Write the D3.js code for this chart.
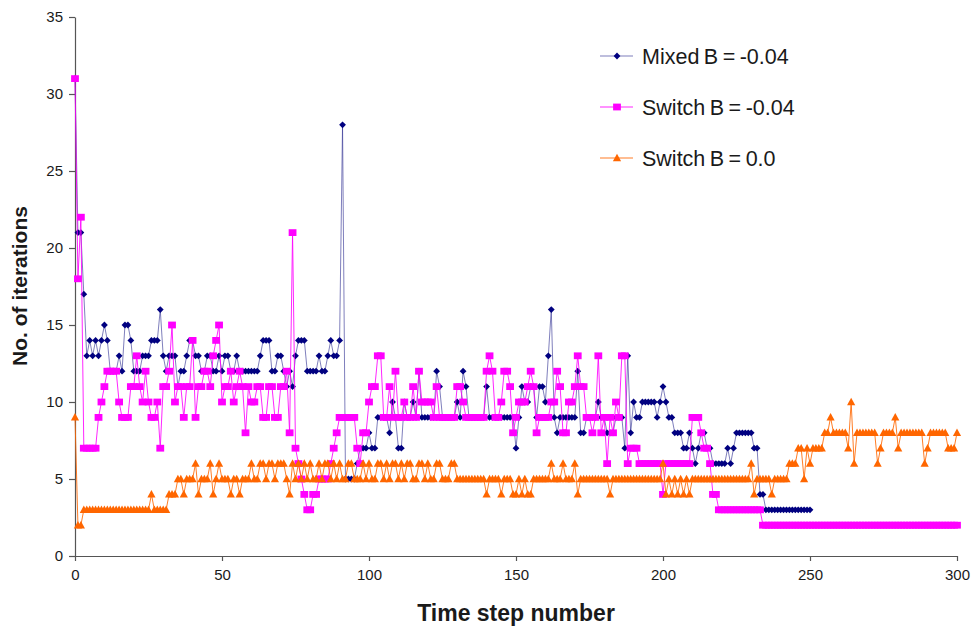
<!DOCTYPE html>
<html>
<head>
<meta charset="utf-8">
<script src="https://cdn.jsdelivr.net/npm/d3@7/dist/d3.min.js"></script>
<style>
  html, body { margin: 0; padding: 0; background: #fff; }
  svg { display: block; font-family: "Liberation Sans", Arial, sans-serif; }
</style>
</head>
<body>
<svg id="chart" width="973" height="628"></svg>
<script>
// Iterations per time step for the three solver variants
const seriesNames = ["Mixed B = -0.04", "Switch B = -0.04", "Switch B = 0.0"];

// Mixed, B = -0.04 (time steps 0..250)
const mixedIters = [
  31, 21, 21, 17, 13, 14, 13, 14, 13, 14,
  15, 14, 12, 12, 12, 13, 12, 15, 15, 14,
  12, 12, 12, 13, 13, 13, 14, 14, 14, 16,
  13, 12, 13, 13, 13, 11, 12, 12, 13, 14,
  14, 13, 13, 12, 12, 13, 13, 12, 12, 13,
  12, 13, 13, 12, 12, 13, 12, 12, 12, 12,
  12, 12, 12, 13, 14, 14, 14, 12, 12, 13,
  13, 12, 11, 12, 11, 13, 14, 14, 14, 12,
  12, 12, 12, 13, 12, 12, 13, 14, 13, 13,
  14, 28, 5, 5, 5, 5, 6, 7, 7, 7,
  8, 7, 7, 9, 9, 9, 9, 8, 10, 9,
  7, 7, 10, 9, 9, 10, 9, 12, 9, 9,
  9, 9, 9, 12, 11, 9, 9, 9, 9, 9,
  10, 9, 12, 11, 9, 9, 9, 9, 9, 9,
  11, 9, 9, 9, 9, 9, 9, 9, 9, 9,
  7, 9, 11, 10, 10, 11, 11, 9, 11, 11,
  10, 13, 16, 9, 8, 9, 9, 9, 9, 9,
  9, 12, 8, 8, 9, 9, 9, 9, 10, 9,
  9, 8, 8, 8, 9, 9, 9, 7, 13, 8,
  10, 9, 9, 10, 10, 10, 10, 10, 9, 10,
  11, 10, 9, 9, 8, 8, 8, 7, 7, 8,
  7, 6, 7, 8, 8, 7, 7, 6, 6, 6,
  6, 6, 7, 6, 7, 8, 8, 8, 8, 8,
  8, 7, 7, 4, 4, 3, 3, 3, 3, 3,
  3, 3, 3, 3, 3, 3, 3, 3, 3, 3, 3
];

// Switch, B = -0.04 (time steps 0..300)
const switchIters = [
  31, 18, 22, 7, 7, 7, 7, 7, 9, 10,
  11, 12, 12, 12, 12, 10, 9, 9, 9, 11,
  11, 13, 11, 10, 12, 10, 9, 9, 10, 7,
  11, 11, 12, 15, 10, 11, 11, 9, 11, 11,
  14, 9, 11, 11, 12, 12, 11, 13, 14, 15,
  10, 11, 11, 12, 10, 11, 12, 11, 8, 11,
  10, 10, 11, 11, 9, 9, 11, 11, 9, 9,
  11, 11, 12, 8, 21, 7, 6, 5, 4, 3,
  3, 4, 4, 5, 5, 5, 5, 6, 7, 8,
  9, 9, 9, 9, 9, 9, 7, 6, 8, 8,
  10, 11, 11, 13, 13, 9, 9, 11, 9, 12,
  9, 9, 10, 9, 9, 11, 9, 12, 10, 10,
  10, 10, 9, 11, 9, 9, 9, 9, 9, 9,
  11, 11, 10, 9, 9, 9, 9, 9, 9, 9,
  12, 13, 12, 9, 9, 10, 12, 12, 11, 8,
  9, 10, 10, 10, 11, 12, 11, 8, 9, 9,
  9, 9, 10, 10, 12, 11, 8, 8, 10, 10,
  11, 13, 11, 11, 9, 9, 8, 9, 13, 8,
  9, 6, 9, 8, 10, 9, 13, 13, 6, 7,
  7, 7, 6, 6, 6, 6, 6, 6, 6, 6,
  4, 6, 6, 6, 6, 6, 6, 6, 6, 6,
  9, 9, 9, 8, 7, 7, 6, 4, 4, 3,
  3, 3, 3, 3, 3, 3, 3, 3, 3, 3,
  3, 3, 3, 3, 2, 2, 2, 2, 2, 2,
  2, 2, 2, 2, 2, 2, 2, 2, 2, 2,
  2, 2, 2, 2, 2, 2, 2, 2, 2, 2,
  2, 2, 2, 2, 2, 2, 2, 2, 2, 2,
  2, 2, 2, 2, 2, 2, 2, 2, 2, 2,
  2, 2, 2, 2, 2, 2, 2, 2, 2, 2,
  2, 2, 2, 2, 2, 2, 2, 2, 2, 2,
  2
];

// Switch, B = 0.0 (time steps 0..300)
const switchZeroIters = [
  9, 2, 2, 3, 3, 3, 3, 3, 3, 3,
  3, 3, 3, 3, 3, 3, 3, 3, 3, 3,
  3, 3, 3, 3, 3, 3, 4, 3, 3, 3,
  3, 3, 4, 4, 4, 5, 5, 4, 5, 5,
  5, 6, 4, 5, 5, 5, 6, 4, 5, 6,
  5, 5, 5, 4, 5, 5, 4, 5, 5, 5,
  6, 5, 5, 6, 6, 5, 6, 6, 5, 6,
  6, 6, 5, 4, 6, 5, 6, 5, 6, 5,
  6, 5, 5, 6, 5, 6, 6, 5, 6, 5,
  6, 5, 5, 6, 6, 5, 5, 5, 6, 5,
  6, 5, 5, 6, 6, 5, 6, 5, 6, 6,
  5, 6, 5, 6, 6, 5, 5, 6, 6, 5,
  6, 5, 5, 6, 6, 5, 5, 5, 6, 6,
  5, 5, 5, 5, 5, 5, 5, 5, 5, 5,
  4, 5, 5, 5, 5, 4, 5, 5, 5, 4,
  4, 5, 4, 5, 4, 4, 5, 5, 5, 5,
  5, 5, 6, 5, 5, 5, 6, 5, 5, 5,
  6, 4, 5, 5, 5, 5, 5, 5, 5, 5,
  5, 5, 4, 5, 5, 5, 5, 5, 5, 5,
  5, 5, 5, 5, 5, 5, 5, 5, 5, 5,
  6, 4, 5, 4, 5, 4, 5, 4, 5, 4,
  5, 5, 5, 5, 5, 5, 5, 5, 5, 5,
  5, 5, 5, 5, 5, 5, 5, 5, 5, 5,
  6, 4, 5, 5, 5, 5, 5, 4, 5, 5,
  5, 5, 5, 6, 6, 6, 7, 7, 5, 7,
  6, 7, 7, 7, 7, 8, 8, 9, 8, 8,
  8, 8, 8, 7, 10, 6, 8, 8, 8, 8,
  8, 8, 8, 6, 7, 8, 8, 8, 8, 9,
  7, 8, 8, 8, 8, 8, 8, 8, 8, 6,
  7, 8, 8, 8, 8, 8, 8, 7, 7, 7,
  8
];

const xTicks = [0, 50, 100, 150, 200, 250, 300];
const yTicks = [0, 5, 10, 15, 20, 25, 30, 35];

const svg = d3.select("#chart");

const x = d3.scaleLinear().domain([0, 300]).range([75, 957]);
const y = d3.scaleLinear().domain([0, 35]).range([556, 17]);

const axisColor = "#555";
const textColor = "#1a1a1a";

// Axes
const yAxis = svg.append("g")
  .attr("transform", "translate(75,0)")
  .call(d3.axisLeft(y).tickValues(yTicks).tickSize(6).tickSizeOuter(0).tickPadding(6));
const xAxis = svg.append("g")
  .attr("transform", "translate(0,556)")
  .call(d3.axisBottom(x).tickValues(xTicks).tickSize(5).tickSizeOuter(0).tickPadding(8));

[xAxis, yAxis].forEach(g => {
  g.selectAll("path, line").attr("stroke", axisColor).attr("stroke-width", 1.2);
  g.selectAll("text").attr("fill", textColor)
    .style("font-size", "15px")
    .style("font-family", "'Liberation Sans', Arial, sans-serif");
});

// Axis titles
svg.append("text")
  .attr("x", 516).attr("y", 621)
  .attr("text-anchor", "middle")
  .attr("fill", textColor)
  .style("font-size", "23px").style("font-weight", "bold")
  .text("Time step number");

svg.append("text")
  .attr("transform", "translate(27,286) rotate(-90)")
  .attr("text-anchor", "middle")
  .attr("fill", textColor)
  .style("font-size", "21px").style("font-weight", "bold")
  .text("No. of iterations");

// Marker shapes
const markerPath = {
  diamond: "M0,-3.4L3.4,0L0,3.4L-3.4,0Z",
  square: "M-3.9,-3.4H3.9V3.4H-3.9Z",
  triangle: "M0,-4.3L4.1,3.2H-4.1Z"
};

const series = [
  { name: seriesNames[0], values: mixedIters, line: "#2a2a90", lineOpacity: 0.6, fill: "#000080", marker: "diamond" },
  { name: seriesNames[1], values: switchIters, line: "#ff00ff", lineOpacity: 0.85, fill: "#ff00ff", marker: "square" },
  { name: seriesNames[2], values: switchZeroIters, line: "#ff6600", lineOpacity: 0.85, fill: "#ff6600", marker: "triangle" }
];

const line = d3.line()
  .x((d, i) => x(i))
  .y(d => y(d));

const plot = svg.append("g");
series.forEach(s => {
  const g = plot.append("g");
  g.append("path")
    .datum(s.values)
    .attr("fill", "none")
    .attr("stroke", s.line)
    .attr("stroke-opacity", s.lineOpacity)
    .attr("stroke-width", 1)
    .attr("d", line);
  g.selectAll("path.mk")
    .data(s.values)
    .join("path")
    .attr("class", "mk")
    .attr("transform", (d, i) => `translate(${x(i)},${y(d)})`)
    .attr("d", markerPath[s.marker])
    .attr("fill", s.fill);
});

// Legend
const legend = svg.append("g");
const legendRows = [56, 107, 158];
series.forEach((s, i) => {
  const row = legend.append("g").attr("transform", `translate(600,${legendRows[i]})`);
  row.append("line")
    .attr("x1", 0).attr("x2", 33).attr("y1", 0).attr("y2", 0)
    .attr("stroke", s.line).attr("stroke-opacity", s.lineOpacity).attr("stroke-width", 1.2);
  row.append("path")
    .attr("transform", "translate(17,0)")
    .attr("d", markerPath[s.marker])
    .attr("fill", s.fill);
  row.append("text")
    .attr("x", 42).attr("y", 7.5)
    .attr("fill", textColor)
    .style("font-size", "21.5px")
    .style("word-spacing", "-1.5px")
    .text(s.name);
});
</script>
</body>
</html>
